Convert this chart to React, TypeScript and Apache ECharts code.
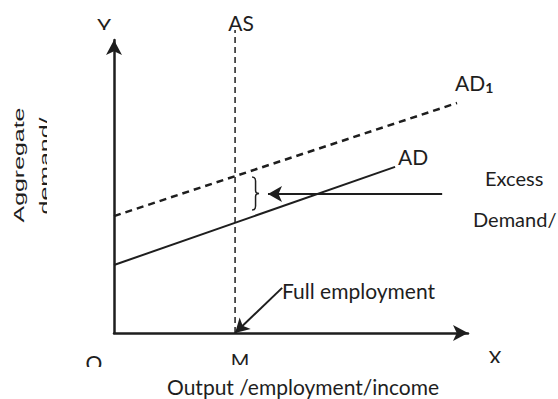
import React, { useEffect, useRef } from "react";
import * as echarts from "echarts";

// Curves (abstract units: x 0-100 along output axis, y 0-100 along demand axis)
const AD1_LINE: number[][] = [[0, 39.9], [96.9, 78.5]];
const AD_LINE: number[][] = [[0, 23.2], [79.4, 56.7]];
const AS_LINE: number[][] = [[34.2, 0], [34.2, 103.4]];
const EXCESS_BRACE: number[] = [39.0, 53.2, 42.0]; // x, top y, bottom y
const EXCESS_ARROW: number[][] = [[92.7, 47.4], [43.5, 47.4]];
const FULL_EMP_ARROW: number[][] = [[47.5, 15.4], [34.2, 0]];

const INK = "#1e1e1e";
const HFONT = "Lato";

export default function App() {
  const ref = useRef<HTMLDivElement>(null);
  useEffect(() => {
    if (!ref.current) return;
    const chart = echarts.init(ref.current, null, { renderer: "svg" });
    const txt = (text: string, x: number, y: number, size: number, align = "left") => ({
      type: "text",
      x,
      y,
      style: { text, fill: INK, font: `${size}px ${HFONT}`, textAlign: align, textVerticalAlign: "middle" },
      z: 10,
    });
    const mask = (x: number, y: number, w: number, h: number) => ({
      type: "rect",
      shape: { x, y, width: w, height: h },
      style: { fill: "#ffffff" },
      z: 11,
    });
    chart.setOption({
      animation: false,
      backgroundColor: "#ffffff",
      grid: { left: 114, right: 90, top: 40, bottom: 66 },
      xAxis: {
        type: "value",
        min: 0,
        max: 100,
        axisLine: { show: true, symbol: ["none", "arrow"], symbolSize: [12, 15], lineStyle: { color: INK, width: 2.5 } },
        axisTick: { show: false },
        axisLabel: { show: false },
        splitLine: { show: false },
      },
      yAxis: {
        type: "value",
        min: 0,
        max: 100,
        axisLine: { show: true, symbol: ["none", "arrow"], symbolSize: [12, 15], lineStyle: { color: INK, width: 2.5 } },
        axisTick: { show: false },
        axisLabel: { show: false },
        splitLine: { show: false },
      },
      series: [
        {
          type: "line",
          data: AD1_LINE,
          symbol: "none",
          lineStyle: { color: INK, width: 2.5, type: [7, 5] },
        },
        {
          type: "line",
          data: AD_LINE,
          symbol: "none",
          lineStyle: { color: INK, width: 2 },
        },
        {
          type: "line",
          data: AS_LINE,
          symbol: "none",
          clip: false,
          lineStyle: { color: INK, width: 1.5, type: [6, 4] },
        },
        {
          type: "line",
          data: [],
          markLine: {
            silent: true,
            symbol: ["none", "arrow"],
            symbolSize: [12, 14],
            label: { show: false },
            lineStyle: { color: INK, width: 2, type: "solid" },
            data: [
              [{ coord: EXCESS_ARROW[0] }, { coord: EXCESS_ARROW[1] }],
              [{ coord: FULL_EMP_ARROW[0] }, { coord: FULL_EMP_ARROW[1] }],
            ],
          },
        },
        {
          type: "custom",
          data: [EXCESS_BRACE],
          renderItem: (params: any, api: any) => {
            const top = api.coord([api.value(0), api.value(1)]);
            const bot = api.coord([api.value(0), api.value(2)]);
            const x = top[0];
            const y1 = top[1];
            const y2 = bot[1];
            const m = (y1 + y2) / 2;
            const w = 7;
            const h = w / 2;
            const d = `M${x} ${y1} Q${x + h} ${y1} ${x + h} ${y1 + 4} L${x + h} ${m - 3} Q${x + h} ${m} ${x + w} ${m} Q${x + h} ${m} ${x + h} ${m + 3} L${x + h} ${y2 - 4} Q${x + h} ${y2} ${x} ${y2}`;
            return { type: "path", shape: { pathData: d }, style: { fill: "none", stroke: INK, lineWidth: 1.5 } };
          },
        },
      ],
      graphic: [
        txt("Y", 104, 25, 22, "center"),
        mask(92, 30, 20, 9),
        txt("AS", 241, 22, 21, "center"),
        {
          type: "text",
          x: 455,
          y: 82,
          style: {
            text: "{a|AD}{s|1}",
            fill: INK,
            textVerticalAlign: "middle",
            rich: {
              a: { font: `21px ${HFONT}`, fill: INK },
              s: { font: `bold 14px ${HFONT}`, fill: INK, padding: [10, 0, 0, 0] },
            },
          },
          z: 10,
        },
        txt("AD", 398, 156, 21),
        txt("Excess", 485, 178, 20),
        txt("Demand/", 473, 219, 20),
        txt("Full employment", 282, 290, 21),
        txt("O", 94, 362, 21, "center"),
        mask(84, 367, 22, 10),
        txt("M", 240, 360, 20, "center"),
        mask(228, 365, 24, 10),
        txt("X", 495, 357, 20, "center"),
        mask(485, 363, 22, 11),
        txt("Output /employment/income", 167, 386, 21),
        {
          type: "text",
          x: 19,
          y: 165,
          rotation: Math.PI / 2,
          scaleX: 1.66,
          style: { text: "Aggregate", fill: INK, font: "15px 'Liberation Sans'", textAlign: "center", textVerticalAlign: "middle" },
          z: 10,
        },
        {
          type: "text",
          x: 44.5,
          y: 166,
          rotation: Math.PI / 2,
          scaleX: 1.66,
          style: { text: "demand/", fill: INK, font: "15px 'Liberation Sans'", textAlign: "center", textVerticalAlign: "middle" },
          z: 10,
        },
        mask(47, 100, 14, 130),
      ],
    });
    return () => chart.dispose();
  }, []);
  return <div ref={ref} style={{ position: "fixed", left: 0, top: 0, width: 558, height: 399 }} />;
}
